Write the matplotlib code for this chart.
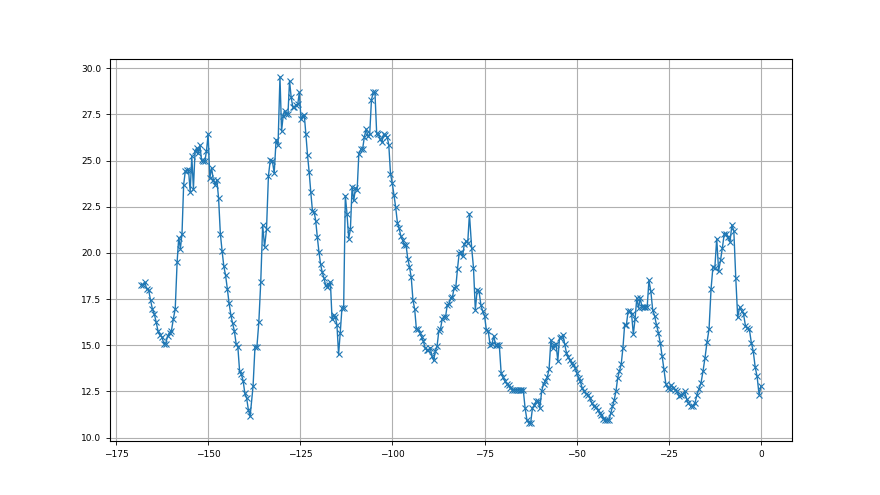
import numpy as np
import matplotlib
matplotlib.use("Agg")
import matplotlib.pyplot as plt

# y values, in order from left to right
seg1 = [18.29, 18.29, 18.42, 18.05, 18.0, 17.45, 16.96, 16.69, 16.24, 15.75,
        15.56, 15.45, 15.09, 15.09, 15.51, 15.69, 15.78, 16.42, 16.96, 19.51,
        20.83, 20.23, 21.05, 23.69, 24.41, 24.5, 24.5, 23.32, 25.23, 23.47,
        25.5, 25.69, 25.42, 25.82, 25.01, 24.96, 24.96, 25.5, 26.42, 24.05,
        24.6, 23.96, 23.69, 23.96, 22.96, 21.05, 20.1, 19.27, 18.78, 18.05,
        17.27, 16.65, 16.18, 15.78, 15.09, 14.91, 13.6, 13.42, 13.09, 12.4,
        12.15, 11.51, 11.15]
seg2 = [12.78, 14.91, 14.91, 16.24, 18.42, 21.51, 20.33, 21.27, 24.18, 25.05,
        25.0, 24.33, 26.14, 25.83, 29.54, 26.6, 27.41, 27.69, 27.54, 27.5,
        29.32, 28.42, 27.9, 27.9, 28.01, 28.05, 28.69, 27.23, 27.41, 27.47,
        26.42, 25.29, 24.38, 23.29, 22.29, 22.24, 21.75, 20.85, 20.05, 19.38,
        18.96, 18.65, 18.29, 18.18, 18.29, 18.42, 16.42, 16.65, 16.55, 16.11,
        14.51, 15.69, 17.02, 17.02, 23.09, 22.11, 20.78, 21.27, 23.56, 22.84,
        23.51, 23.42, 25.38]
seg3 = [25.6, 25.64, 26.29, 26.7, 26.33, 26.42, 28.29, 28.69, 28.69, 26.47,
        26.42, 26.18, 26.0, 26.42, 26.36, 26.29, 25.87, 24.29, 23.78, 23.15,
        22.47, 21.64, 21.33, 20.91, 20.69, 20.42, 20.42, 19.69, 19.24, 18.69,
        17.45, 16.96, 15.87, 15.87, 15.69, 15.45, 15.24, 14.87, 14.73, 14.73,
        14.87, 14.42, 14.18, 14.69, 14.96, 15.75, 15.87, 16.42, 16.55, 16.55,
        17.2, 17.24, 17.56, 17.6, 18.11, 18.15, 19.15, 20.0, 20.05, 19.82,
        20.47, 20.64, 20.55, 22.11]
seg4 = [20.29, 19.2, 16.91, 18.0, 17.93, 17.2, 16.84, 16.6, 15.82, 15.78,
        15.02, 15.05, 15.51, 15.02, 15.02, 15.02, 13.51, 13.27, 13.09, 12.91,
        12.84, 12.69, 12.6, 12.6, 12.6, 12.6, 12.6, 12.6, 12.6, 11.6,
        10.96, 10.78, 10.78, 11.6, 11.75, 11.96, 12.0, 11.6, 12.51, 12.91,
        13.09, 13.27, 13.69, 15.27, 14.84, 15.02, 15.05, 14.15, 15.42, 15.45,
        15.56, 15.05, 14.6, 14.36, 14.18, 14.05, 13.93, 13.78, 13.51, 13.24]
seg5 = [13.05, 12.69, 12.51, 12.36, 12.33, 12.15, 11.87, 11.69, 11.64, 11.51,
        11.33, 11.2, 11.02, 10.96, 10.96, 10.96, 11.33, 11.69, 12.05, 12.51,
        13.24, 13.6, 13.96, 14.84, 16.11, 16.11, 16.84, 16.84, 16.69, 15.6,
        16.42, 17.56, 17.02, 17.56, 17.05, 17.09, 17.09, 17.09, 18.51, 17.93,
        16.91, 16.6, 16.11, 15.69, 15.15, 14.42, 13.69, 12.91, 12.69, 12.65,
        12.84, 12.69, 12.6, 12.51, 12.24, 12.33, 12.36, 12.51, 12.11, 11.87]
seg6 = [11.69, 11.69, 11.87, 12.33, 12.65, 12.96, 13.6, 14.33, 15.18, 15.87,
        18.05, 19.24, 19.2, 20.78, 19.02, 19.6, 20.29, 21.05, 21.05, 20.84,
        20.6, 21.51, 21.2, 18.65, 16.51, 17.05, 16.87, 16.69, 16.05, 15.93,
        15.87, 15.15, 14.69, 13.82, 13.31, 12.33, 12.78]

values = seg1 + seg2 + seg3 + seg4 + seg5 + seg6

# x positions of recognisable points (sample index -> x)
anchor_index = [0, 19, 38, 62, 63, 77, 83, 113, 125, 126, 133, 168, 189,
                190, 221, 233, 249, 250, 264, 288, 309, 310, 320, 331, 346]
anchor_x = [-168.2, -158.4, -150.0, -138.6, -137.8, -130.5, -127.9, -114.6,
            -109.1, -108.55, -105.2, -88.8, -79.1, -78.5, -63.0, -57.0, -49.5,
            -49.04, -41.7, -30.4, -19.7, -19.0, -13.55, -7.9, 0.0]

x = np.interp(np.arange(len(values)), anchor_index, anchor_x)

xticks = [-175, -150, -125, -100, -75, -50, -25, 0]
yticks = [10.0, 12.5, 15.0, 17.5, 20.0, 22.5, 25.0, 27.5, 30.0]

plt.rcParams['font.family'] = ['DejaVu Sans']
fig, ax = plt.subplots(figsize=(8.8, 4.95), dpi=100)
ax.plot(x, values, color='#1f77b4', marker='x', markersize=3.8,
        markeredgewidth=0.8, linewidth=1.0)
ax.set_xticks(xticks)
ax.set_yticks(yticks)
ax.set_yticklabels([f"{v:.1f}" for v in yticks])
ax.tick_params(labelsize=6.5, length=3, width=0.6)
for s in ax.spines.values():
    s.set_linewidth(0.8)
ax.grid(True, color='#b0b0b0', linewidth=0.8)
fig.savefig('out.png', dpi=100)
